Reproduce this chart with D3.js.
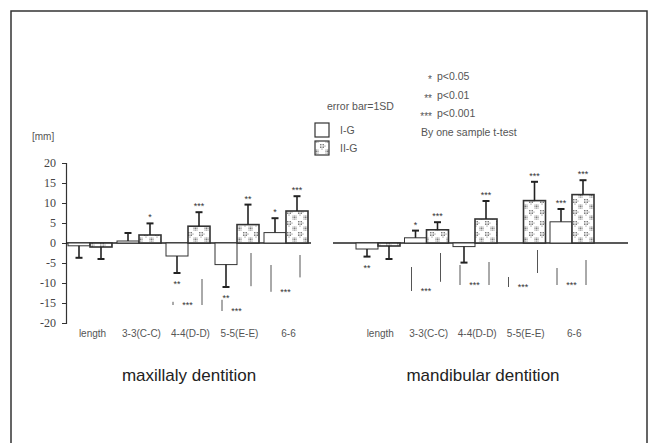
<!DOCTYPE html>
<html>
<head>
<meta charset="utf-8">
<script src="https://cdn.jsdelivr.net/npm/d3@7"></script>
<style>
  body { margin: 0; background: #fff; }
  text { font-family: "Liberation Sans", Arial, sans-serif; }
</style>
</head>
<body>
<svg width="652" height="443"></svg>
<script>
// Data (mm, mean and 1SD)
const categories = ["length", "3-3(C-C)", "4-4(D-D)", "5-5(E-E)", "6-6"];
const series = ["I-G", "II-G"];
const yTicks = [20, 15, 10, 5, 0, -5, -10, -15, -20];

const maxIG = [-0.7, 0.5, -3.25, -5.4, 2.6];
const maxIGsd = [3.0, 2.0, 4.25, 5.6, 3.6];
const maxIIG = [-1.0, 2.0, 4.2, 4.6, 8.0];
const maxIIGsd = [3.0, 2.9, 3.5, 5.0, 3.7];
const maxIGsig = ["", "", "**", "**", "*"];
const maxIIGsig = ["", "*", "***", "**", "***"];

const manIG = [-1.5, 1.3, -0.9, 0, 5.3];
const manIGsd = [1.9, 1.8, 4.0, 0, 3.2];
const manIIG = [-0.75, 3.3, 6.0, 10.6, 12.1];
const manIIGsd = [3.25, 1.9, 4.5, 4.7, 3.6];
const manIGsig = ["**", "*", "", "", "***"];
const manIIGsig = ["", "***", "***", "***", "***"];

// group comparison marks below the bars: [left top, left bottom, right top, right bottom, label]
const maxCompare = [null, null, [-14.7, -15.5, -9, -15.5, "***"], [-14.2, -17, -2.5, -10.8, "***"], [-5.5, -12.2, -3, -8.6, "***"]];
const manCompare = [null, [-6, -12, -2.5, -9.7, "***"], [-5.5, -10.5, -4.75, -10.5, "***"], [-8.5, -11, -1.75, -7.5, "***"], [-6.25, -10.5, -4.25, -10.5, "***"]];

const sigMarks = ["*", "**", "***"];
const sigLabels = ["p<0.05", "p<0.01", "p<0.001"];

const svg = d3.select("svg");
const ink = "#222";

// stipple pattern for II-G (small rosettes of dots)
const defs = svg.append("defs");
const pat = defs.append("pattern")
    .attr("id", "dots")
    .attr("patternUnits", "userSpaceOnUse")
    .attr("width", 11)
    .attr("height", 11);
pat.append("rect").attr("width", 11).attr("height", 11).attr("fill", "#fff");
const rosette = [[0, 0], [1.5, 0], [-1.5, 0], [0, 1.5], [0, -1.5], [1.5, 1.5], [-1.5, -1.5], [1.5, -1.5], [-1.5, 1.5], [3, 0], [0, 3]];
[[3, 3], [8.5, 8.5]].forEach(c => {
    rosette.forEach(p => {
        pat.append("circle")
            .attr("cx", c[0] + p[0]).attr("cy", c[1] + p[1])
            .attr("r", 0.55).attr("fill", "#666");
    });
});

svg.append("rect").attr("width", 652).attr("height", 443).attr("fill", "#fff");

// frame (open at the bottom)
svg.append("path")
    .attr("d", "M11,443V11H647V443")
    .attr("fill", "none")
    .attr("stroke", "#333")
    .attr("stroke-width", 1.5);

// scales
const y = d3.scaleLinear().domain([-20, 20]).range([323, 163]);
const xMax = d3.scaleBand().domain(categories).range([66, 311]);
const xMan = d3.scaleBand().domain(categories).range([354, 596.5]);
const xSub = d3.scaleBand().domain(series).range([2, 46]);

// y axis
const yAxis = svg.append("g")
    .attr("transform", "translate(66,0)")
    .call(d3.axisLeft(y).tickValues(yTicks).tickSize(4).tickFormat(d => d));
yAxis.select(".domain").attr("stroke", "#333").attr("stroke-width", 1.2);
yAxis.selectAll(".tick line").attr("stroke", "#333");
yAxis.selectAll(".tick text")
    .attr("x", -10)
    .attr("fill", "#444")
    .style("font-family", "'Liberation Serif', serif")
    .style("font-size", "12px");

svg.append("text")
    .attr("x", 32).attr("y", 140)
    .attr("fill", "#555").style("font-size", "10px")
    .text("[mm]");

// zero lines
[[66, 311], [333, 628]].forEach(r => {
    svg.append("line")
        .attr("x1", r[0]).attr("x2", r[1])
        .attr("y1", y(0)).attr("y2", y(0))
        .attr("stroke", ink).attr("stroke-width", 1.5);
});

function drawPanel(x, ig, igSd, iig, iigSd, igSig, iigSig, compare, title, titleX) {
    const g = svg.append("g");
    const rows = [];
    categories.forEach((c, i) => {
        rows.push({ cat: c, s: "I-G", v: ig[i], sd: igSd[i], sig: igSig[i] });
        rows.push({ cat: c, s: "II-G", v: iig[i], sd: iigSd[i], sig: iigSig[i] });
    });
    const bw = xSub.bandwidth();

    g.selectAll(".bar").data(rows).enter().append("rect")
        .attr("class", "bar")
        .attr("x", d => x(d.cat) + xSub(d.s))
        .attr("y", d => y(Math.max(0, d.v)))
        .attr("width", bw)
        .attr("height", d => Math.abs(y(d.v) - y(0)))
        .attr("fill", d => d.s === "I-G" ? "#fff" : "url(#dots)")
        .attr("stroke", "#333")
        .attr("stroke-width", d => d.s === "I-G" ? 1 : 1.6);

    const err = rows.filter(d => d.sd > 0);
    const cx = d => x(d.cat) + xSub(d.s) + bw / 2;
    const end = d => y(d.v + (d.v < 0 ? -d.sd : d.sd));
    g.selectAll(".err").data(err).enter().append("line")
        .attr("x1", cx).attr("x2", cx)
        .attr("y1", d => y(d.v)).attr("y2", end)
        .attr("stroke", ink).attr("stroke-width", 1.6);
    g.selectAll(".cap").data(err).enter().append("line")
        .attr("x1", d => cx(d) - 3.5).attr("x2", d => cx(d) + 3.5)
        .attr("y1", end).attr("y2", end)
        .attr("stroke", ink).attr("stroke-width", 2);

    g.selectAll(".sig").data(rows.filter(d => d.sig)).enter().append("text")
        .attr("x", cx)
        .attr("y", d => d.v < 0 ? end(d) + 14 : end(d) - 3)
        .attr("text-anchor", "middle")
        .attr("fill", "#333")
        .style("font-size", "9px")
        .text(d => d.sig);

    // comparison marks
    compare.forEach((m, i) => {
        if (!m) return;
        const s = x(categories[i]);
        const lx = s + xSub("I-G") + bw / 2 - 4;
        const rx = s + xSub("II-G") + bw / 2 + 3;
        g.append("line").attr("x1", lx).attr("x2", lx)
            .attr("y1", y(m[0])).attr("y2", y(m[1]))
            .attr("stroke", "#555").attr("stroke-width", 1);
        g.append("line").attr("x1", rx).attr("x2", rx)
            .attr("y1", y(m[2])).attr("y2", y(m[3]))
            .attr("stroke", "#555").attr("stroke-width", 1);
        g.append("text")
            .attr("x", (lx + rx) / 2)
            .attr("y", y(Math.min(m[1], m[3])) + 3)
            .attr("text-anchor", "middle")
            .attr("fill", "#333")
            .style("font-size", "9px")
            .text(m[4]);
    });

    // category labels
    g.selectAll(".cat").data(categories).enter().append("text")
        .attr("x", d => x(d) + x.bandwidth() / 2 + 2)
        .attr("y", 337)
        .attr("text-anchor", "middle")
        .attr("fill", "#555")
        .style("font-size", "10px")
        .text(d => d);

    g.append("text")
        .attr("x", titleX).attr("y", 381)
        .attr("text-anchor", "middle")
        .attr("fill", "#222")
        .style("font-size", "17px")
        .text(title);
}

drawPanel(xMax, maxIG, maxIGsd, maxIIG, maxIIGsd, maxIGsig, maxIIGsig, maxCompare, "maxillaly dentition", 189);
drawPanel(xMan, manIG, manIGsd, manIIG, manIIGsd, manIGsig, manIIGsig, manCompare, "mandibular dentition", 483);

// legend
svg.append("text")
    .attr("x", 327).attr("y", 110)
    .attr("fill", "#555").style("font-size", "10.5px")
    .text("error bar=1SD");

series.forEach((s, i) => {
    svg.append("rect")
        .attr("x", 315).attr("y", 123 + i * 18)
        .attr("width", 14).attr("height", 14)
        .attr("fill", i === 0 ? "#fff" : "url(#dots)")
        .attr("stroke", "#333").attr("stroke-width", 1.2);
    svg.append("text")
        .attr("x", 340).attr("y", 134 + i * 18)
        .attr("fill", "#555").style("font-size", "10.5px")
        .text(s);
});

sigMarks.forEach((m, i) => {
    svg.append("text")
        .attr("x", 432).attr("y", 83 + i * 18.5)
        .attr("text-anchor", "end")
        .attr("fill", "#555").style("font-size", "10px")
        .text(m);
    svg.append("text")
        .attr("x", 437).attr("y", 80 + i * 18.5)
        .attr("fill", "#555").style("font-size", "10.5px")
        .text(sigLabels[i]);
});
svg.append("text")
    .attr("x", 421).attr("y", 136)
    .attr("fill", "#555").style("font-size", "10.5px")
    .text("By one sample t-test");
</script>
</body>
</html>
